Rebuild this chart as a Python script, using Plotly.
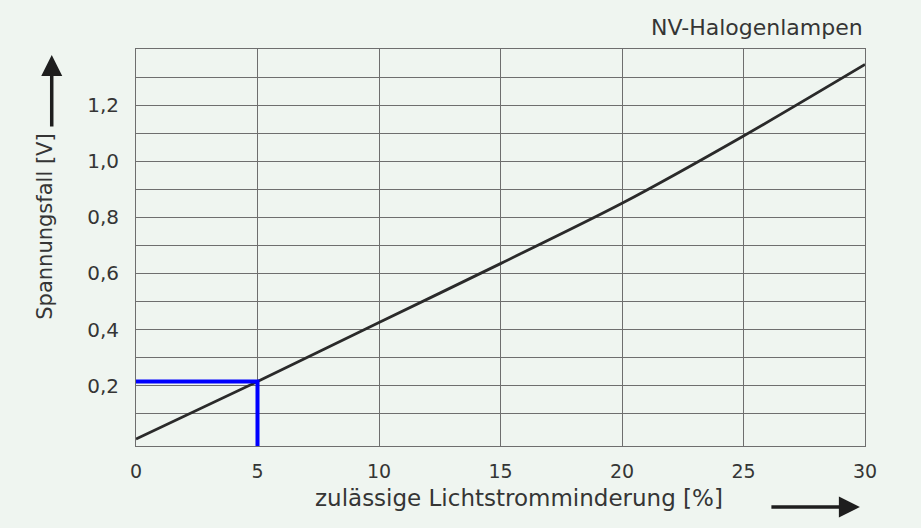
import plotly.graph_objects as go

# Data
x_pct = [0, 5, 10, 15, 20, 25, 30]
y_volt = [0.01, 0.215, 0.425, 0.635, 0.85, 1.09, 1.345]

guide_x = [0, 5, 5]
guide_y = [0.215, 0.215, -0.02]

x_ticks = [0, 5, 10, 15, 20, 25, 30]
x_ticktext = ["0", "5", "10", "15", "20", "25", "30"]
y_ticks = [0.2, 0.4, 0.6, 0.8, 1.0, 1.2]
y_ticktext = ["0,2", "0,4", "0,6", "0,8", "1,0", "1,2"]

title_text = "NV-Halogenlampen"
x_title = "zulässige Lichtstromminderung [%]"
y_title = "Spannungsfall [V]"

BG = "#eff5f0"
TXT = "#353535"
GRID = "#6e6e6e"
FONT = "DejaVu Sans"

fig = go.Figure()
fig.add_trace(go.Scatter(x=x_pct, y=y_volt, mode="lines",
                         line=dict(color="#2a2a2a", width=2.8, shape="spline",
                                   smoothing=0.8),
                         showlegend=False, hoverinfo="skip"))
fig.add_trace(go.Scatter(x=guide_x, y=guide_y, mode="lines",
                         line=dict(color="#0000ff", width=4), showlegend=False,
                         hoverinfo="skip"))

fig.update_layout(
    width=921, height=528,
    margin=dict(l=136, r=56, t=49, b=82),
    paper_bgcolor=BG, plot_bgcolor=BG,
    font=dict(family=FONT, color=TXT),
    showlegend=False,
)
fig.update_xaxes(range=[0, 30], tickvals=x_ticks, ticktext=x_ticktext,
                 showgrid=True, gridcolor=GRID, gridwidth=1,
                 showline=True, linecolor=GRID, linewidth=1, mirror=True,
                 zeroline=False, ticks="", ticklabelstandoff=8,
                 tickfont=dict(family=FONT, size=19, color=TXT))
fig.update_yaxes(range=[-0.015, 1.4], tickvals=y_ticks, ticktext=y_ticktext,
                 showgrid=False,
                 showline=True, linecolor=GRID, linewidth=1, mirror=True,
                 zeroline=False, ticks="", ticklabelstandoff=12,
                 tickfont=dict(family=FONT, size=20, color=TXT),
                 minor=dict(tickvals=[round(0.1 * i, 1) for i in range(1, 14)],
                            showgrid=True, gridcolor=GRID, gridwidth=1))

ann = [
    dict(text=title_text, x=1.0, y=1.055, xref="paper", yref="paper",
         xanchor="right", yanchor="middle", showarrow=False,
         font=dict(family=FONT, size=22, color=TXT)),
    dict(text=x_title, x=0.525, y=-0.13, xref="paper", yref="paper",
         xanchor="center", yanchor="middle", showarrow=False,
         font=dict(family=FONT, size=23, color=TXT)),
    dict(text=y_title, x=-0.125, y=0.552, xref="paper", yref="paper",
         xanchor="center", yanchor="middle", showarrow=False, textangle=-90,
         font=dict(family=FONT, size=21, color=TXT)),
    # axis arrows
    dict(text="", x=-0.1156, y=0.985, xref="paper", yref="paper",
         showarrow=True, ax=0, ay=73, arrowhead=2, arrowsize=1.2,
         arrowwidth=3.5, arrowcolor="#1e1e1e"),
    dict(text="", x=0.993, y=-0.1537, xref="paper", yref="paper",
         showarrow=True, ax=-90, ay=0, arrowhead=2, arrowsize=1.2,
         arrowwidth=3.5, arrowcolor="#1e1e1e"),
]
fig.update_layout(annotations=ann)

fig.write_html("out.html",
               config={"displayModeBar": False},
               post_script="document.body.style.margin='0';"
                           "document.body.style.background='" + BG + "';")
